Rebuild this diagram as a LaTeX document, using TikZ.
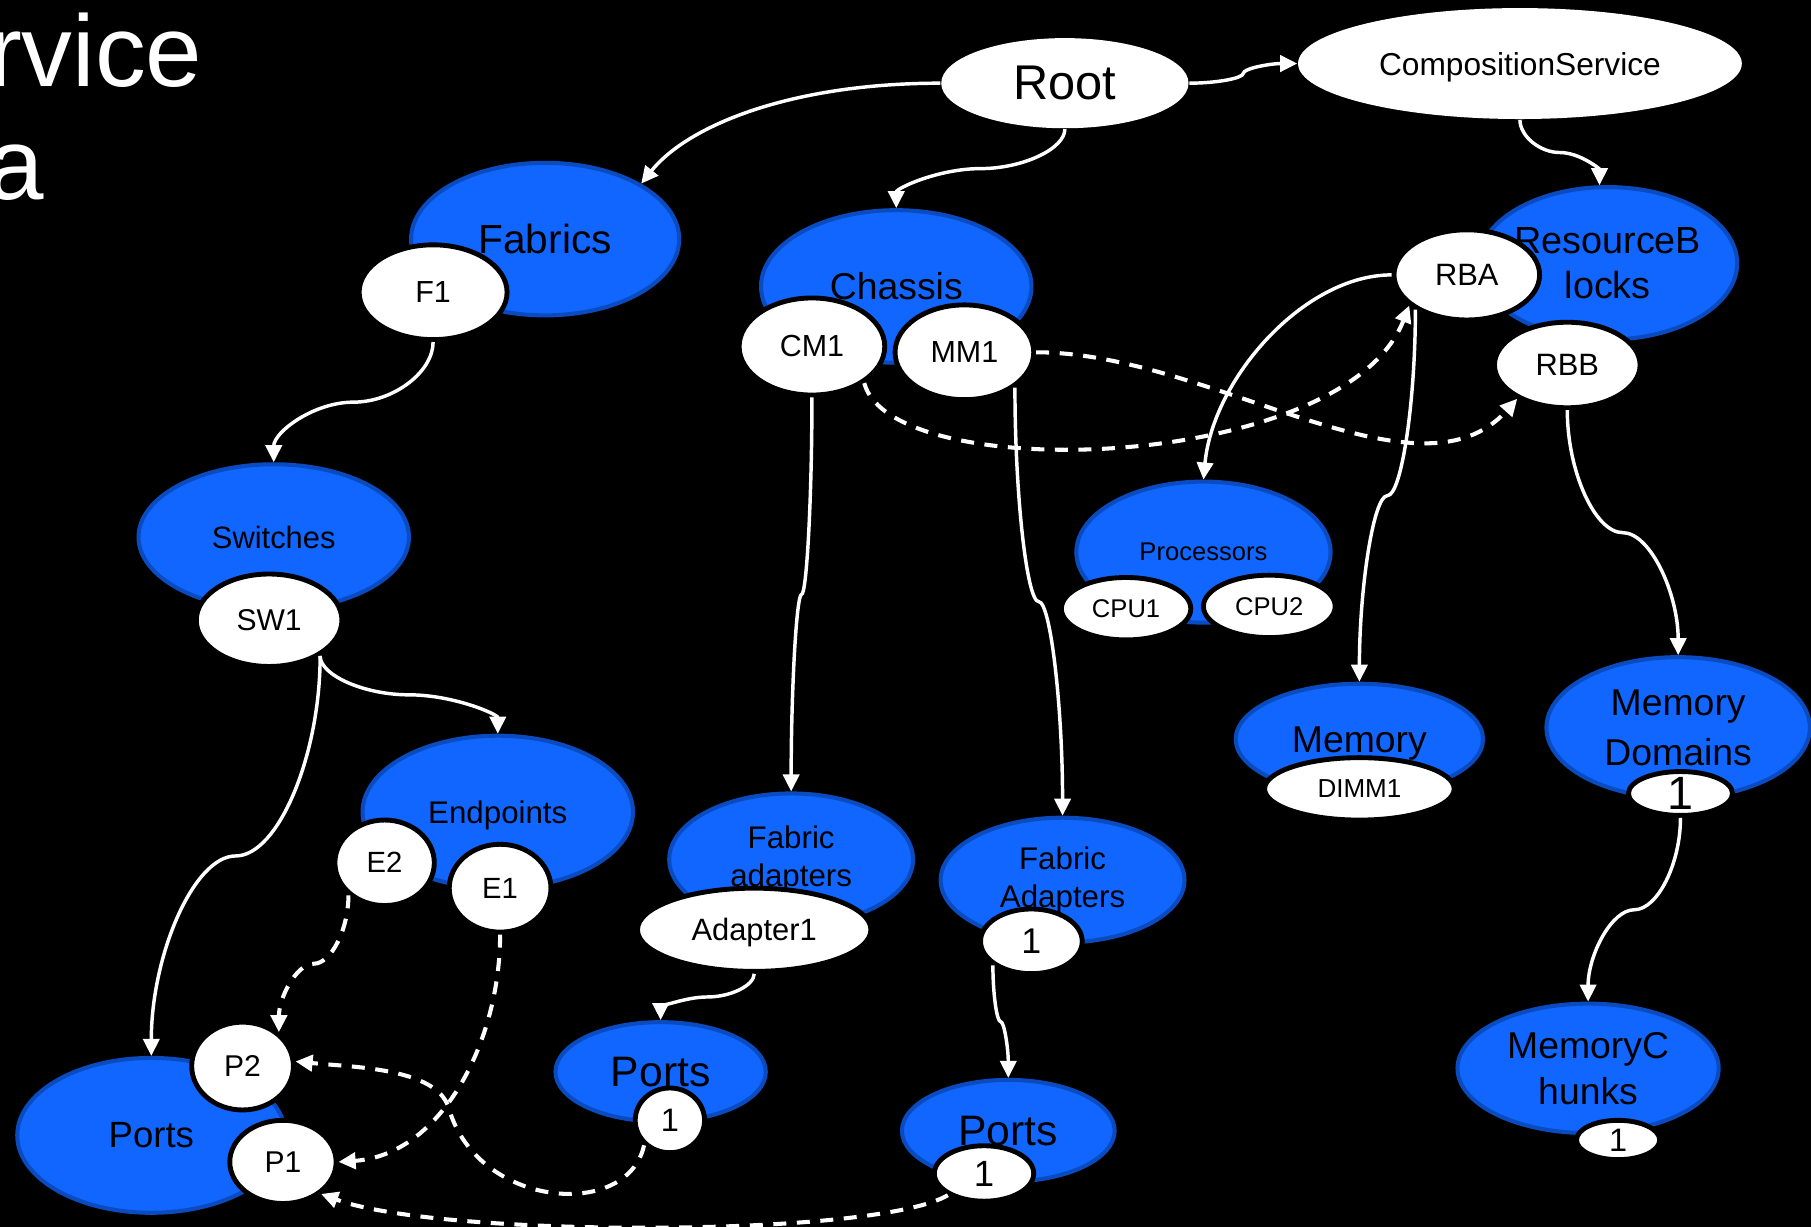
\documentclass[tikz,border=0pt]{standalone}
\usepackage{fontspec}
\setmainfont{Liberation Sans}
\usetikzlibrary{shapes.geometric,arrows.meta,calc}
\definecolor{bfill}{HTML}{1166FF}
\definecolor{bedge}{HTML}{0A4CC0}
\newcommand{\myfs}[2]{\fontsize{#1}{#2}\selectfont}
\begin{document}
\begin{tikzpicture}[x=0.01cm,y=-0.01cm,
  blob/.style={ellipse,fill=bfill,draw=bedge,line width=1pt,inner sep=-3pt,align=center,text=black},
  inst/.style={ellipse,fill=white,draw=black,line width=1.2pt,inner sep=-3pt,text=black},
  head/.style={ellipse,fill=white,draw=none,inner sep=-3pt,text=black},
  nodepth/.style={text depth=0pt},
  conn/.style={white,line width=0.85pt,-{Triangle[length=4.2pt,width=4pt]}},
  refl/.style={conn,line width=1pt,dash pattern=on 3.2pt off 2.6pt},
  ppt/.style={to path={let \p1=(\tikztostart), \p2=(\tikztotarget),
      \p3=($(\tikztostart)!0.25!(\tikztotarget)$),
      \p4=($(\tikztostart)!0.5!(\tikztotarget)$),
      \p5=($(\tikztostart)!0.75!(\tikztotarget)$) in
      .. controls (\x1,\y3) and (\x3,\y4) .. (\p4)
      .. controls (\x5,\y4) and (\x2,\y5) .. (\p2) \tikztonodes}},
  ppth/.style={to path={let \p1=(\tikztostart), \p2=(\tikztotarget),
      \p3=($(\tikztostart)!0.25!(\tikztotarget)$),
      \p4=($(\tikztostart)!0.5!(\tikztotarget)$),
      \p5=($(\tikztostart)!0.75!(\tikztotarget)$) in
      .. controls (\x3,\y1) and (\x4,\y3) .. (\p4)
      .. controls (\x4,\y5) and (\x5,\y2) .. (\p2) \tikztonodes}}]
\useasboundingbox (0,0) rectangle (1568,1062);
\fill[black] (0,0) rectangle (1568,1062);

% title fragments
\node[anchor=base east,inner sep=0pt,text=white,font=\myfs{25}{30}] (title1) at (176,74.5) {rvice};
\node[anchor=base east,inner sep=0pt,text=white,font=\myfs{25}{30}] (title2) at (39,173) {a};

% top-level resources
\node[head,minimum width=2.14cm,minimum height=0.78cm,font=\myfs{12}{14}] (Root) at (922,72) {Root};
\node[head,nodepth,minimum width=3.84cm,minimum height=0.96cm,font=\myfs{7.8}{9}] (CS) at (1316,55) {CompositionService};

% collections (blue)
\node[blob,minimum width=2.32cm,minimum height=1.32cm,font=\myfs{10}{12}] (Fabrics) at (472,207) {Fabrics};
\node[blob,minimum width=2.34cm,minimum height=1.26cm,font=\myfs{7.6}{9}] (Switches) at (237,465) {Switches};
\node[blob,nodepth,minimum width=2.34cm,minimum height=1.32cm,font=\myfs{7.7}{9}] (Endpoints) at (431,703) {Endpoints};
\node[blob,minimum width=2.32cm,minimum height=1.34cm,font=\myfs{9}{11}] (PortsL) at (131,983) {Ports};
\node[blob,minimum width=2.34cm,minimum height=1.32cm,font=\myfs{9.2}{11}] (Chassis) at (776,248) {Chassis};
\node[blob,minimum width=2.11cm,minimum height=1.14cm,font=\myfs{7.7}{9.2}] (FA1) at (685,744) {Fabric\\adapters};
\node[blob,minimum width=2.11cm,minimum height=1.08cm,font=\myfs{7.7}{9.4}] (FA2) at (920,762) {Fabric\\Adapters};
\node[blob,minimum width=1.82cm,minimum height=0.86cm,font=\myfs{10.5}{12}] (PortsM) at (572,928) {Ports};
\node[blob,minimum width=1.84cm,minimum height=0.88cm,font=\myfs{10.5}{12}] (PortsR) at (873,979) {Ports};
\node[blob,minimum width=2.24cm,minimum height=1.32cm,font=\myfs{9.3}{11.1}] (RB) at (1392,228) {ResourceB\\locks};
\node[blob,minimum width=2.20cm,minimum height=1.22cm,font=\myfs{6.3}{7.5}] (Proc) at (1042,478) {Processors};
\node[blob,nodepth,minimum width=2.14cm,minimum height=0.96cm,font=\myfs{9.2}{11}] (Mem) at (1177,640) {Memory};
\node[blob,minimum width=2.28cm,minimum height=1.22cm,font=\myfs{9.2}{12.2}] (MD) at (1453,630) {Memory\\Domains};
\node[blob,minimum width=2.26cm,minimum height=1.12cm,font=\myfs{9.2}{11.4}] (MC) at (1375,925) {MemoryC\\hunks};

% members (white)
\node[inst,minimum width=1.28cm,minimum height=0.82cm,font=\myfs{7.5}{9}] (F1) at (375,253) {F1};
\node[inst,minimum width=1.26cm,minimum height=0.80cm,font=\myfs{7.4}{9}] (SW1) at (233,537) {SW1};
\node[inst,minimum width=0.86cm,minimum height=0.74cm,font=\myfs{7.2}{9}] (E2) at (333,747) {E2};
\node[inst,minimum width=0.88cm,minimum height=0.76cm,font=\myfs{7.2}{9}] (E1) at (433,769) {E1};
\node[inst,minimum width=0.88cm,minimum height=0.76cm,font=\myfs{7.4}{9}] (P2) at (210,923) {P2};
\node[inst,minimum width=0.92cm,minimum height=0.72cm,font=\myfs{7.4}{9}] (P1) at (245,1006) {P1};
\node[inst,minimum width=1.26cm,minimum height=0.84cm,font=\myfs{7.5}{9}] (CM1) at (703,300) {CM1};
\node[inst,minimum width=1.20cm,minimum height=0.82cm,font=\myfs{7.5}{9}] (MM1) at (835,305) {MM1};
\node[inst,nodepth,minimum width=2.02cm,minimum height=0.72cm,font=\myfs{7.6}{9}] (Adapter1) at (653,805) {Adapter1};
\node[inst,minimum width=0.88cm,minimum height=0.56cm,font=\myfs{8.8}{10}] (FA2one) at (893,815) {1};
\node[inst,minimum width=0.60cm,minimum height=0.56cm,font=\myfs{8}{10}] (PM1) at (580,970) {1};
\node[inst,minimum width=0.86cm,minimum height=0.48cm,font=\myfs{9}{10}] (PR1) at (852,1016) {1};
\node[inst,minimum width=1.26cm,minimum height=0.78cm,font=\myfs{7.6}{9}] (RBA) at (1270,238) {RBA};
\node[inst,minimum width=1.26cm,minimum height=0.74cm,font=\myfs{7.6}{9}] (RBB) at (1357,316) {RBB};
\node[inst,minimum width=1.12cm,minimum height=0.54cm,font=\myfs{6.3}{7.5}] (CPU1) at (975,527) {CPU1};
\node[inst,minimum width=1.14cm,minimum height=0.54cm,font=\myfs{6.3}{7.5}] (CPU2) at (1099,525) {CPU2};
\node[inst,minimum width=1.64cm,minimum height=0.54cm,font=\myfs{6.4}{7.5}] (DIMM1) at (1177,683) {DIMM1};
\node[inst,minimum width=0.90cm,minimum height=0.38cm,font=\myfs{11.5}{13}] (MD1) at (1455,687) {1};
\node[inst,minimum width=0.72cm,minimum height=0.34cm,font=\myfs{8}{9}] (MC1) at (1401,987) {1};

% solid connectors
\draw[conn] (Root.180) .. controls +(-130,0) and +(40,-50) .. (Fabrics.30);
\draw[conn] (Root.-90) to[ppt] (Chassis.90);
\draw[conn] (Root.0) to[ppth] (CS.180);
\draw[conn] (CS.-90) to[ppt] (RB.96);
\draw[conn] (F1.-90) to[ppt] (Switches.90);
\draw[conn] (SW1.-35) to[ppt] (Endpoints.90);
\draw[conn] (SW1.-35) to[ppt] (PortsL.90);
\draw[conn] (CM1.-90) to[ppt] (FA1.90);
\draw[conn] (MM1.-35) to[ppt] (FA2.90);
\draw[conn] (Adapter1.-90) to[ppt] (PortsM.90);
\draw[conn] (FA2one.212) to[ppt] (PortsR.90);
\draw[conn] (RBA.180) .. controls +(-76,0) and +(8,-87) .. (Proc.90);
\draw[conn] (RBA.214) to[ppt] (Mem.90);
\draw[conn] (RBB.-90) to[ppt] (MD.90);
\draw[conn] (MD1.-90) to[ppt] (MC.90);

% dashed connectors
\draw[refl] (MM1.0) .. controls +(150,0) and +(-86,96) .. (RBB.214);
\draw[refl] (CM1.-35) .. controls +(24,90) and +(-56,144) .. (RBA.208);
\draw[refl] (E2.222) to[ppt] (P2.43);
\draw[refl] (E1.-90) .. controls +(0,93) and +(89,-6) .. (P1.0);
\draw[refl] (PM1.224) .. controls +(-14,65) and +(25,87) .. ++(-169,-32)
                      .. controls +(-10,-35) and +(50,5) .. (P2.5);
\draw[refl] (PR1.211) .. controls +(-63,37) and +(103,38) .. (P1.-40);
\end{tikzpicture}
\end{document}
